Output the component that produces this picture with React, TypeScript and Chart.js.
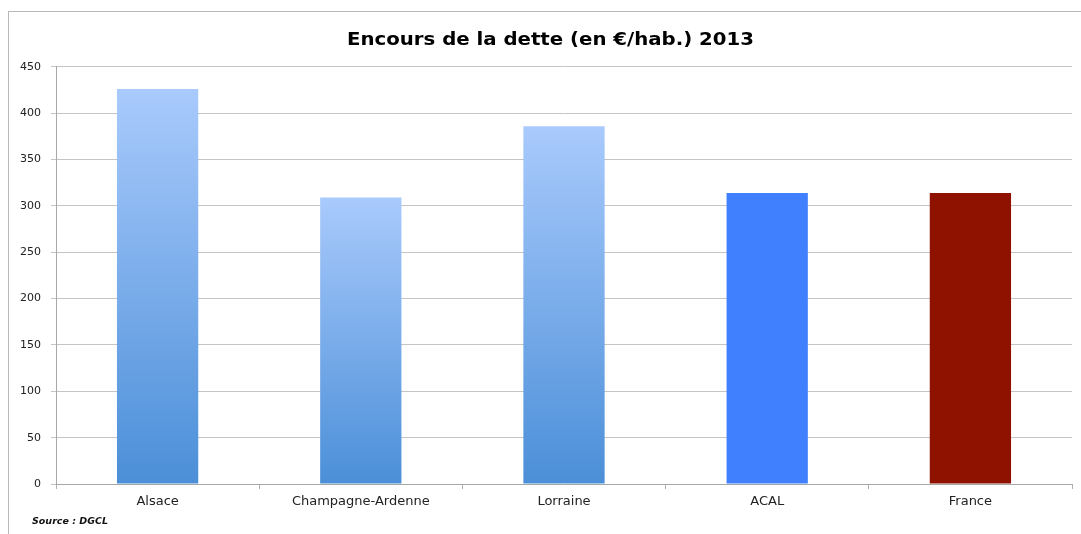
import React, { useEffect, useRef } from "react";
import { Chart, registerables } from "chart.js";

Chart.register(...registerables);

const categories = ["Alsace", "Champagne-Ardenne", "Lorraine", "ACAL", "France"];
const values = [426, 309, 386, 314, 314];
const yTicks = [0, 50, 100, 150, 200, 250, 300, 350, 400, 450];
const title = "Encours de la dette (en €/hab.) 2013";
const source = "Source : DGCL";

const FONT = "'DejaVu Sans', 'Open Sans', sans-serif";

export default function App() {
  const ref = useRef<HTMLCanvasElement | null>(null);

  useEffect(() => {
    const canvas = ref.current;
    if (!canvas) return;
    const ctx = canvas.getContext("2d")!;

    const gradientFill = (context: any) => {
      const chart = context.chart;
      const area = chart.chartArea;
      const i = context.dataIndex;
      if (i === 3) return "#4080ff";
      if (i === 4) return "#8f1100";
      if (!area) return "#7aaaf0";
      const yScale = chart.scales.y;
      const top = yScale.getPixelForValue(values[i]);
      const bottom = yScale.getPixelForValue(0);
      const g = ctx.createLinearGradient(0, top, 0, bottom);
      g.addColorStop(0, "#a9cafc");
      g.addColorStop(1, "#4b8fd8");
      return g;
    };

    const textPlugin = {
      id: "texts",
      afterDraw(chart: any) {
        const c = chart.ctx;
        c.save();
        c.font = `bold 17px ${FONT}`;
        c.fillStyle = "#000";
        c.textBaseline = "alphabetic";
        c.textAlign = "center";
        const w = c.measureText(title).width;
        const sx = w > 0 ? 407 / w : 1;
        c.translate(550.5, 45);
        c.scale(sx, 1);
        c.fillText(title, 0, 0);
        c.restore();
        c.save();
        c.font = `italic bold 9.5px ${FONT}`;
        c.fillStyle = "#111";
        c.textBaseline = "middle";
        c.textAlign = "left";
        c.fillText(source, 32, 522);
        c.restore();
      },
    };

    const chart = new Chart(canvas, {
      type: "bar",
      data: {
        labels: categories,
        datasets: [
          {
            data: values,
            backgroundColor: gradientFill as any,
            borderWidth: 0,
            barPercentage: 0.8,
            categoryPercentage: 0.5,
          },
        ],
      },
      options: {
        animation: false,
        responsive: false,
        layout: { padding: { left: 0, right: 9, top: 66.8, bottom: 0 } },
        plugins: {
          legend: { display: false },
          tooltip: { enabled: false },
          title: { display: false },
        },
        scales: {
          x: {
            grid: {
              offset: true,
              drawOnChartArea: false,
              drawTicks: true,
              tickLength: 5,
              color: "#b0b0b0",
            },
            border: { display: true, color: "#a8a8a8", width: 1 },
            ticks: {
              color: "#222",
              font: { family: FONT, size: 13 },
              padding: 5,
              maxRotation: 0,
              autoSkip: false,
            },
            afterFit(scale: any) {
              scale.height = 50;
            },
          },
          y: {
            min: 0,
            max: 450,
            afterBuildTicks(scale: any) {
              scale.ticks = yTicks.map((v) => ({ value: v }));
            },
            grid: {
              color: "#c4c4c4",
              tickLength: 5,
              drawTicks: true,
            },
            border: { display: true, color: "#a8a8a8", width: 1 },
            ticks: {
              color: "#222",
              font: { family: FONT, size: 11 },
              padding: 10,
            },
            afterFit(scale: any) {
              scale.width = 56;
            },
          },
        },
      },
      plugins: [textPlugin],
    });

    return () => chart.destroy();
  }, []);

  return (
    <div style={{ position: "fixed", left: 0, top: 0, width: 1081, height: 534, background: "#fff" }}>
      <div
        style={{
          position: "absolute",
          left: 8,
          top: 11,
          right: 0,
          bottom: 0,
          borderLeft: "1px solid #b8b8b8",
          borderTop: "1px solid #b8b8b8",
        }}
      />
      <canvas ref={ref} width={1081} height={534} style={{ position: "absolute", left: 0, top: 0 }} />
    </div>
  );
}
